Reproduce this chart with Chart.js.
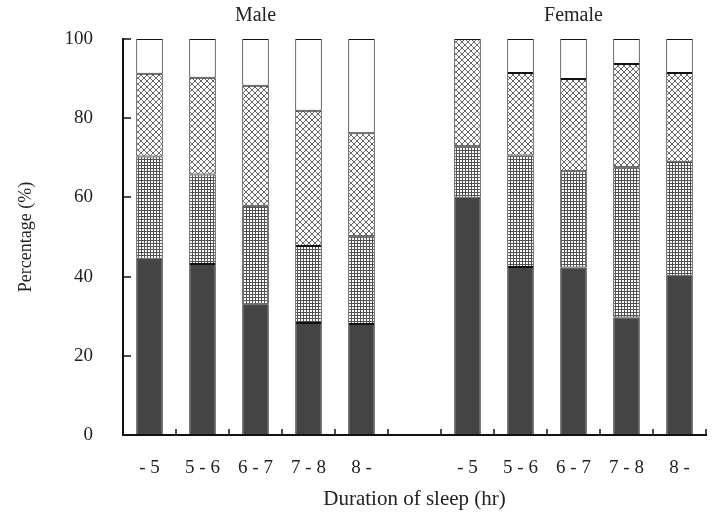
<!DOCTYPE html>
<html><head><meta charset="utf-8">
<script src="https://cdn.jsdelivr.net/npm/chart.js@4"></script>
<style>html,body{margin:0;padding:0;background:#fff}#wrap{width:715px;height:512px}</style>
</head><body><div id="wrap"><canvas id="c" width="715" height="512"></canvas></div>
<script>
const categories = ["- 5","5 - 6","6 - 7","7 - 8","8 -","","- 5","5 - 6","6 - 7","7 - 8","8 -"];
const groupLabels = ["Male","Female"];
const darkSeries  = [44.5,43.2,32.9,28.3,28.0,null,59.9,42.4,42.3,29.7,40.2];
const gridSeries  = [25.8,22.6,25.0,19.4,22.2,null,13.0,28.2,24.3,37.9,28.8];
const crossSeries = [20.9,24.4,30.3,34.2,26.0,null,27.1,20.8,23.3,26.1,22.4];
const whiteSeries = [8.8,9.8,11.8,18.1,23.8,null,0,8.6,10.1,6.3,8.6];
const yTicks = [0,20,40,60,80,100];

function makePattern(size, draw){
  const c=document.createElement('canvas');c.width=size;c.height=size;
  const g=c.getContext('2d');g.fillStyle='#fff';g.fillRect(0,0,size,size);draw(g,size);
  return document.getElementById('c').getContext('2d').createPattern(c,'repeat');
}
const gridPat = makePattern(3,(g,s)=>{g.fillStyle='#505050';g.fillRect(0,0,s,1);g.fillRect(0,0,1,s);});
const crossPat = makePattern(6,(g,s)=>{g.strokeStyle='#555';g.lineWidth=0.9;g.beginPath();
  g.moveTo(0,0);g.lineTo(s,s);g.moveTo(s,0);g.lineTo(0,s);g.stroke();});

Chart.defaults.font.family = '"Liberation Serif", "Times New Roman", serif';
Chart.defaults.color = '#222';

const tickPlugin = {
  id:'ticksIn',
  afterDraw(chart){
    const ctx=chart.ctx, x=chart.scales.x, y=chart.scales.y, a=chart.chartArea;
    ctx.save();ctx.strokeStyle='#111';ctx.lineWidth=1.5;
    yTicks.forEach(v=>{const py=Math.round(y.getPixelForValue(v));
      ctx.beginPath();ctx.moveTo(a.left,py);ctx.lineTo(a.left+8,py);ctx.stroke();});
    const n=categories.length, w=(a.right-a.left)/n;
    for(let i=1;i<=n;i++){const px=Math.round(a.left+i*w);
      ctx.beginPath();ctx.moveTo(px,a.bottom);ctx.lineTo(px,a.bottom-6);ctx.stroke();}
    ctx.fillStyle='#222';ctx.font='20px "Liberation Serif", serif';ctx.textAlign='center';ctx.textBaseline='middle';
    ctx.fillText(groupLabels[0], x.getPixelForValue(2), 16);
    ctx.fillText(groupLabels[1], x.getPixelForValue(8), 16);
    ctx.restore();
  }
};

const ds=(label,data,bg)=>({label,data,backgroundColor:bg,borderColor:'#111',borderWidth:1,borderSkipped:false,
  categoryPercentage:1,barPercentage:0.5,stack:'s'});

new Chart(document.getElementById('c'),{
  type:'bar',
  data:{labels:categories,datasets:[
    ds('dark',darkSeries,'#444'),
    ds('grid',gridSeries,gridPat),
    ds('cross',crossSeries,crossPat),
    ds('white',whiteSeries,'#fff')
  ]},
  options:{
    responsive:false,animation:false,
    layout:{padding:{top:39,right:9,left:0,bottom:0}},
    plugins:{legend:{display:false},tooltip:{enabled:false}},
    scales:{
      x:{stacked:true,grid:{display:false,drawTicks:false},
        border:{display:true,color:'#111',width:2},
        ticks:{font:{size:19},color:'#222',padding:22,maxRotation:0,autoSkip:false},
        title:{display:true,text:'Duration of sleep (hr)',font:{size:21},color:'#222',padding:{top:0,bottom:0}},
        afterFit(s){s.height=77;}
      },
      y:{stacked:true,min:0,max:100,grid:{display:false,drawTicks:false},
        border:{display:true,color:'#111',width:2},
        ticks:{stepSize:20,font:{size:19},color:'#222',padding:30},
        title:{display:true,text:'Percentage (%)',font:{size:18},color:'#222',padding:{top:15,bottom:0}},
        afterFit(s){s.width=123;s.paddingTop=0;s.paddingBottom=0;}
      }
    }
  },
  plugins:[tickPlugin]
});
</script></body></html>
